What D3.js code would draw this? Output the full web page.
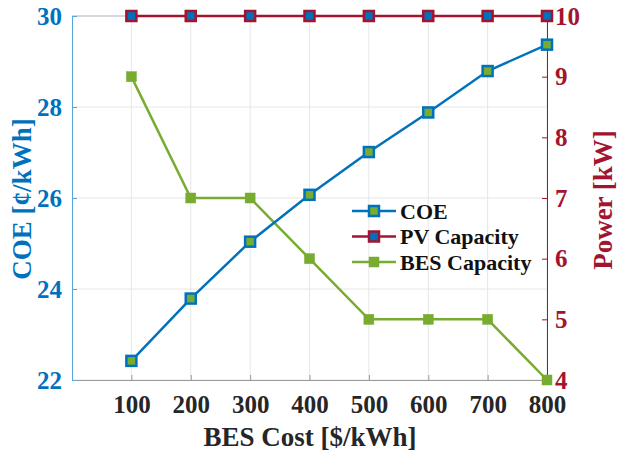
<!DOCTYPE html>
<html><head><meta charset="utf-8">
<script src="https://cdn.jsdelivr.net/npm/d3@7"></script>
<style>html,body{margin:0;padding:0;background:#fff;}svg{display:block;}</style>
</head><body>
<svg id="chart" width="617" height="452"></svg>
<script>
const besCost = [100, 200, 300, 400, 500, 600, 700, 800];
const coe = [22.42, 23.79, 25.04, 26.07, 27.01, 27.88, 28.79, 29.37];
const pvCapacity = [10, 10, 10, 10, 10, 10, 10, 10];
const besCapacity = [9, 7, 7, 6, 5, 5, 5, 4];
const leftTicks = [22, 24, 26, 28, 30];
const rightTicks = [4, 5, 6, 7, 8, 9, 10];

const blue = "#0072BD", red = "#A2142F", green = "#77AC30";
const font = "'Liberation Serif', 'Times New Roman', serif";
const svg = d3.select("#chart");
const m = {l: 72, r: 547, t: 16, b: 380};

const x = d3.scaleLinear().domain([0, 800]).range([m.l, m.r]);
const yL = d3.scaleLinear().domain([22, 30]).range([m.b, m.t]);
const yR = d3.scaleLinear().domain([4, 10]).range([m.b, m.t]);

// grid
const grid = svg.append("g").attr("stroke", "#e6e6e6").attr("stroke-width", 1);
besCost.forEach(v => grid.append("line").attr("x1", x(v)).attr("x2", x(v)).attr("y1", m.t).attr("y2", m.b));
leftTicks.forEach(v => grid.append("line").attr("x1", m.l).attr("x2", m.r).attr("y1", yL(v)).attr("y2", yL(v)));

// top border
svg.append("line").attr("x1", m.l).attr("x2", m.r).attr("y1", m.t).attr("y2", m.t).attr("stroke", "#bdbdbd");

// bottom axis
const xAxis = svg.append("g").attr("transform", `translate(0,${m.b})`)
  .call(d3.axisBottom(x).tickValues(besCost).tickSizeInner(-5).tickSizeOuter(0));
xAxis.select(".domain").attr("stroke", "#9a9a9a");
xAxis.selectAll(".tick line").attr("stroke", "#9a9a9a");
xAxis.selectAll("text").attr("y", 33).attr("dy", null).attr("fill", "#262626")
  .style("font", `bold 25px ${font}`);

// left axis
const lAxis = svg.append("g").attr("transform", `translate(${m.l},0)`)
  .call(d3.axisLeft(yL).tickValues(leftTicks).tickSizeInner(-5).tickSizeOuter(0).tickPadding(10));
lAxis.select(".domain").attr("stroke", "#5aa6dc");
lAxis.selectAll(".tick line").attr("stroke", "#5aa6dc");
lAxis.selectAll("text").attr("fill", blue).style("font", `bold 25px ${font}`);

// right axis
const rAxis = svg.append("g").attr("transform", `translate(${m.r},0)`)
  .call(d3.axisRight(yR).tickValues(rightTicks).tickFormat(d3.format("d"))
    .tickSizeInner(-5).tickSizeOuter(0).tickPadding(8));
rAxis.select(".domain").attr("stroke", red);
rAxis.selectAll(".tick line").attr("stroke", red);
rAxis.selectAll("text").attr("fill", red).style("font", `bold 25px ${font}`);

// axis titles
svg.append("text").attr("transform", "translate(22,199) rotate(-90)").attr("text-anchor", "middle")
  .attr("dominant-baseline", "central").attr("fill", blue).style("font", `bold 27px ${font}`).text("COE [¢/kWh]");
svg.append("text").attr("transform", "translate(603,200) rotate(-90)").attr("text-anchor", "middle")
  .attr("dominant-baseline", "central").attr("fill", red).style("font", `bold 27px ${font}`).text("Power [kW]");
svg.append("text").attr("x", 310).attr("y", 446).attr("text-anchor", "middle")
  .attr("fill", "#262626").style("font", `bold 27px ${font}`).text("BES Cost [$/kWh]");

const series = [
  {name: "COE", y: yL, vals: coe, color: blue, face: green, inner: true},
  {name: "PV Capacity", y: yR, vals: pvCapacity, color: red, face: blue, inner: true},
  {name: "BES Capacity", y: yR, vals: besCapacity, color: green, face: green, inner: false}
];

function marker(g, cx, cy, s) {
  g.append("rect").attr("x", cx - 5).attr("y", cy - 5).attr("width", 10).attr("height", 10)
    .attr("fill", s.inner ? s.face : s.color).attr("stroke", s.color).attr("stroke-width", s.inner ? 2.5 : 0.5);
}

// draw series (BES first so COE/PV sit on top)
[series[2], series[0], series[1]].forEach(s => {
  const g = svg.append("g");
  const line = d3.line().x((d, i) => x(besCost[i])).y(d => s.y(d));
  g.append("path").datum(s.vals).attr("d", line).attr("fill", "none")
    .attr("stroke", s.color).attr("stroke-width", 2.5);
  s.vals.forEach((v, i) => marker(g, x(besCost[i]), s.y(v), s));
});

// legend
const leg = svg.append("g");
series.forEach((s, i) => {
  const yy = 211 + i * 25.5;
  leg.append("line").attr("x1", 352).attr("x2", 396).attr("y1", yy).attr("y2", yy)
    .attr("stroke", s.color).attr("stroke-width", 2.5);
  marker(leg, 374, yy, s);
  leg.append("text").attr("x", 400).attr("y", yy).attr("dominant-baseline", "central")
    .attr("fill", "#111").style("font", `bold 22px ${font}`).text(s.name);
});
</script>
</body></html>
